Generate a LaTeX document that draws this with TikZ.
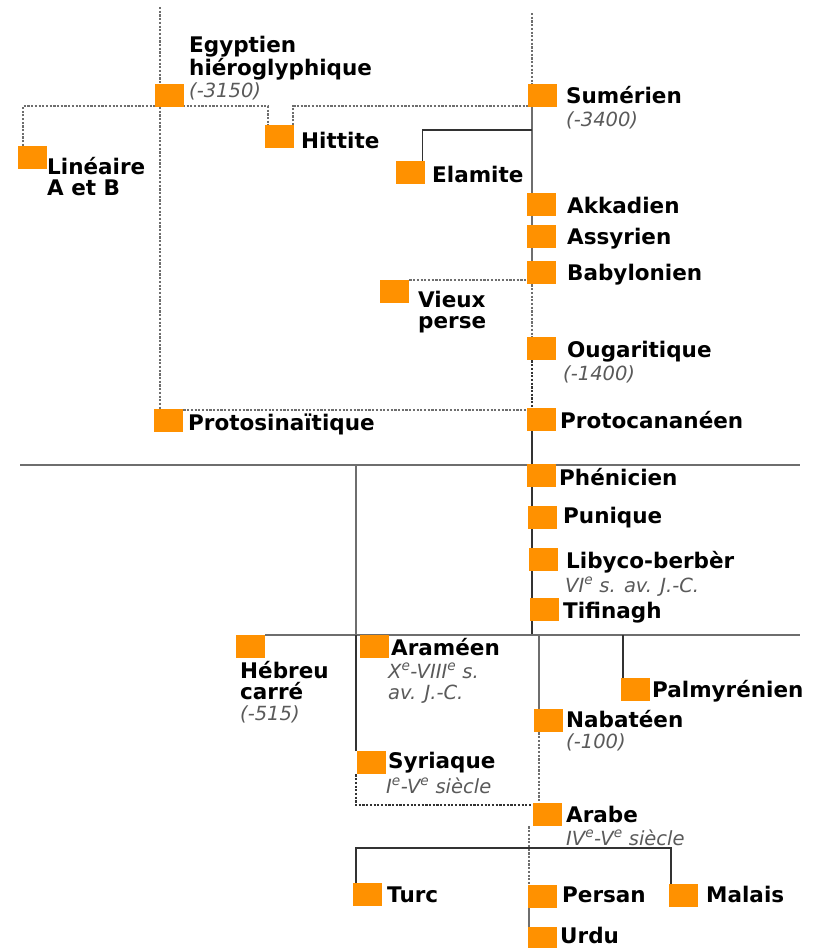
\documentclass[tikz,border=0pt]{standalone}
\usepackage{fontspec}
\setmainfont{DejaVu Sans}
\usetikzlibrary{backgrounds}

\definecolor{orangecarre}{RGB}{255,145,0}
\definecolor{grisligne}{RGB}{110,110,110}
\definecolor{noirligne}{RGB}{50,50,50}
\definecolor{grisdate}{RGB}{90,90,90}

\tikzset{
  carre/.style={fill=orangecarre, minimum width=29pt, minimum height=23pt, inner sep=0pt, anchor=north west},
  nom/.style={anchor=base west, inner sep=0pt, align=left, font=\fontsize{21.5}{21}\selectfont\bfseries},
  annee/.style={anchor=base west, inner sep=0pt, align=left, text=grisdate, font=\fontsize{19.5}{20.5}\selectfont\itshape},
  pointille/.style={grisligne, line width=2.1pt, dash pattern=on 2.2pt off 1.5pt},
  trait/.style={noirligne, line width=1.6pt},
  traitgris/.style={grisligne, line width=1.9pt},
}

\begin{document}
\begin{tikzpicture}[x=1pt,y=-1pt]
	\useasboundingbox (0,0) rectangle (818,948);

	% carres
	\node[carre] (egy) at (155,84) {};
	\node[carre] (sum) at (528,84) {};
	\node[carre] (hit) at (265,125) {};
	\node[carre] (lin) at (18,146) {};
	\node[carre] (ela) at (396,161) {};
	\node[carre] (akk) at (527,193) {};
	\node[carre] (ass) at (527,225) {};
	\node[carre] (bab) at (527,261) {};
	\node[carre] (vp) at (380,280) {};
	\node[carre] (oug) at (527,337) {};
	\node[carre] (psin) at (154,409) {};
	\node[carre] (pcan) at (527,408) {};
	\node[carre] (phe) at (527,464) {};
	\node[carre] (pun) at (528,506) {};
	\node[carre] (lib) at (529,548) {};
	\node[carre] (tif) at (530,598) {};
	\node[carre] (heb) at (236,635) {};
	\node[carre] (ara) at (360,635) {};
	\node[carre] (pal) at (621,678) {};
	\node[carre] (nab) at (534,709) {};
	\node[carre] (syr) at (357,751) {};
	\node[carre] (arb) at (533,803) {};
	\node[carre] (tur) at (353,883) {};
	\node[carre] (per) at (528,885) {};
	\node[carre] (mal) at (669,884) {};
	\node[carre] (urd) at (528,927) {};

	% noms
	\node[nom] (egyt) at (189,75) {Egyptien\\hiéroglyphique};
	\node[annee] (egyd) at (189,97) {(-3150)};
	\node[nom] (sumt) at (566,103) {Sumérien};
	\node[annee] (sumd) at (566,126) {(-3400)};
	\node[nom] (hitt) at (301,148) {Hittite};
	\node[nom] (lint) at (47,195) {Linéaire\\A et B};
	\node[nom] (elat) at (432,182) {Elamite};
	\node[nom] (akkt) at (567,213) {Akkadien};
	\node[nom] (asst) at (567,244) {Assyrien};
	\node[nom] (babt) at (567,280) {Babylonien};
	\node[nom] (vpt) at (418,328) {Vieux\\perse};
	\node[nom] (ougt) at (567,357) {Ougaritique};
	\node[annee] (ougd) at (563,380) {(-1400)};
	\node[nom] (psint) at (188,430) {Protosinaïtique};
	\node[nom] (pcant) at (560,428) {Protocananéen};
	\node[nom] (phet) at (559,485) {Phénicien};
	\node[nom] (punt) at (563,523) {Punique};
	\node[nom] (libt) at (566,568) {Libyco-berbèr};
	\node[annee] (libd) at (565,592) {VI\textsuperscript{e} s. av. J.-C.};
	\node[nom] (tift) at (563,618) {Tifinagh};
	\node[nom] (hebt) at (240,699) {Hébreu\\carré};
	\node[annee] (hebd) at (240,720) {(-515)};
	\node[nom] (arat) at (391,655) {Araméen};
	\node[annee] (arad) at (388,699) {X\textsuperscript{e}-VIII\textsuperscript{e} s.\\av. J.-C.};
	\node[nom] (palt) at (652,697) {Palmyrénien};
	\node[nom] (nabt) at (566,727) {Nabatéen};
	\node[annee] (nabd) at (566,748) {(-100)};
	\node[nom] (syrt) at (388,768) {Syriaque};
	\node[annee] (syrd) at (386,793) {I\textsuperscript{e}-V\textsuperscript{e} siècle};
	\node[nom] (arbt) at (566,822) {Arabe};
	\node[annee] (arbd) at (566,845) {IV\textsuperscript{e}-V\textsuperscript{e} siècle};
	\node[nom] (turt) at (387,902) {Turc};
	\node[nom] (pert) at (562,902) {Persan};
	\node[nom] (malt) at (706,902) {Malais};
	\node[nom] (urdt) at (560,943) {Urdu};

	% points de depart des traits
	\coordinate (hautg) at (160,7);
	\coordinate (hautd) at (532,13);
	\coordinate (elaj) at (532,130);
	\coordinate (ligne1g) at (20,465);
	\coordinate (ligne1d) at (800,465);
	\coordinate (ligne2d) at (800,635);
	\coordinate (brA) at (356,465);
	\coordinate (brB) at (356,635);
	\coordinate (nabj) at (539,635);
	\coordinate (palj) at (623,635);
	\coordinate (arbj) at (529,848);

	\begin{scope}[on background layer]
	\fill[white] (0,0) rectangle (818,948);
	% branche du haut
	\draw[pointille] (hautg) -- (hautg |- psin.north);
	\draw[pointille] ([xshift=5pt]lin.north west) |- (268,106) -- ([xshift=3pt]hit.north west);
	\draw[pointille] ([xshift=-1pt]hit.north east) |- ([yshift=1pt]sum.south west);
	\draw[pointille] (hautd) -- (hautd |- sum.north);
	\draw[traitgris] (hautd |- sum.south) -- (hautd |- akk.north);
	\draw[trait] (elaj) -| ([xshift=-3pt]ela.north east);
	\draw[traitgris] (hautd |- akk.south) -- (hautd |- ass.north);
	\draw[traitgris] (hautd |- ass.south) -- (hautd |- bab.north);
	\draw[pointille] (hautd |- bab.south) -- (hautd |- oug.north);
	\draw[pointille] (vp.north east) -- (vp.north east -| hautd);
	\draw[pointille, noirligne] (hautd |- oug.south) -- (hautd |- pcan.north);
	\draw[pointille] ([yshift=-1pt]psin.north east) -- ([yshift=-1pt]psin.north east -| hautd);
	\draw[trait, line width=2.5pt] (hautd |- pcan.south) -- (hautd |- phe.north);
	% phenicien
	\draw[traitgris] (ligne1g) -- (ligne1d);
	\draw[trait] (hautd |- phe.south) -- (hautd |- pun.north);
	\draw[trait] (hautd |- pun.south) -- (hautd |- lib.north);
	\draw[trait] (hautd |- lib.south) -- (hautd |- tif.north);
	\draw[trait] (hautd |- tif.south) -- (hautd |- ligne2d);
	\draw[traitgris] (brA) -- (brB);
	% arameen
	\draw[traitgris] (heb.north east) -- (ligne2d);
	\draw[trait] (brB) -- (brB |- syr.north);
	\draw[pointille, noirligne] (brB |- syr.south) |- ([yshift=-2pt]arb.north west);
	\draw[traitgris] (nabj) -- (nabj |- nab.north);
	\draw[pointille] (nabj |- nab.south) -- (nabj |- arb.north);
	\draw[trait] (palj) -- (palj |- pal.north);
	% arabe
	\draw[pointille] (arbj |- arb.south) -- (arbj |- per.north);
	\draw[trait] ([xshift=3pt]tur.north west) |- (arbj) -| ([xshift=2pt]mal.north west);
	\draw[traitgris] (arbj |- per.south) -- (arbj |- urd.north);
	\end{scope}
\end{tikzpicture}
\end{document}
